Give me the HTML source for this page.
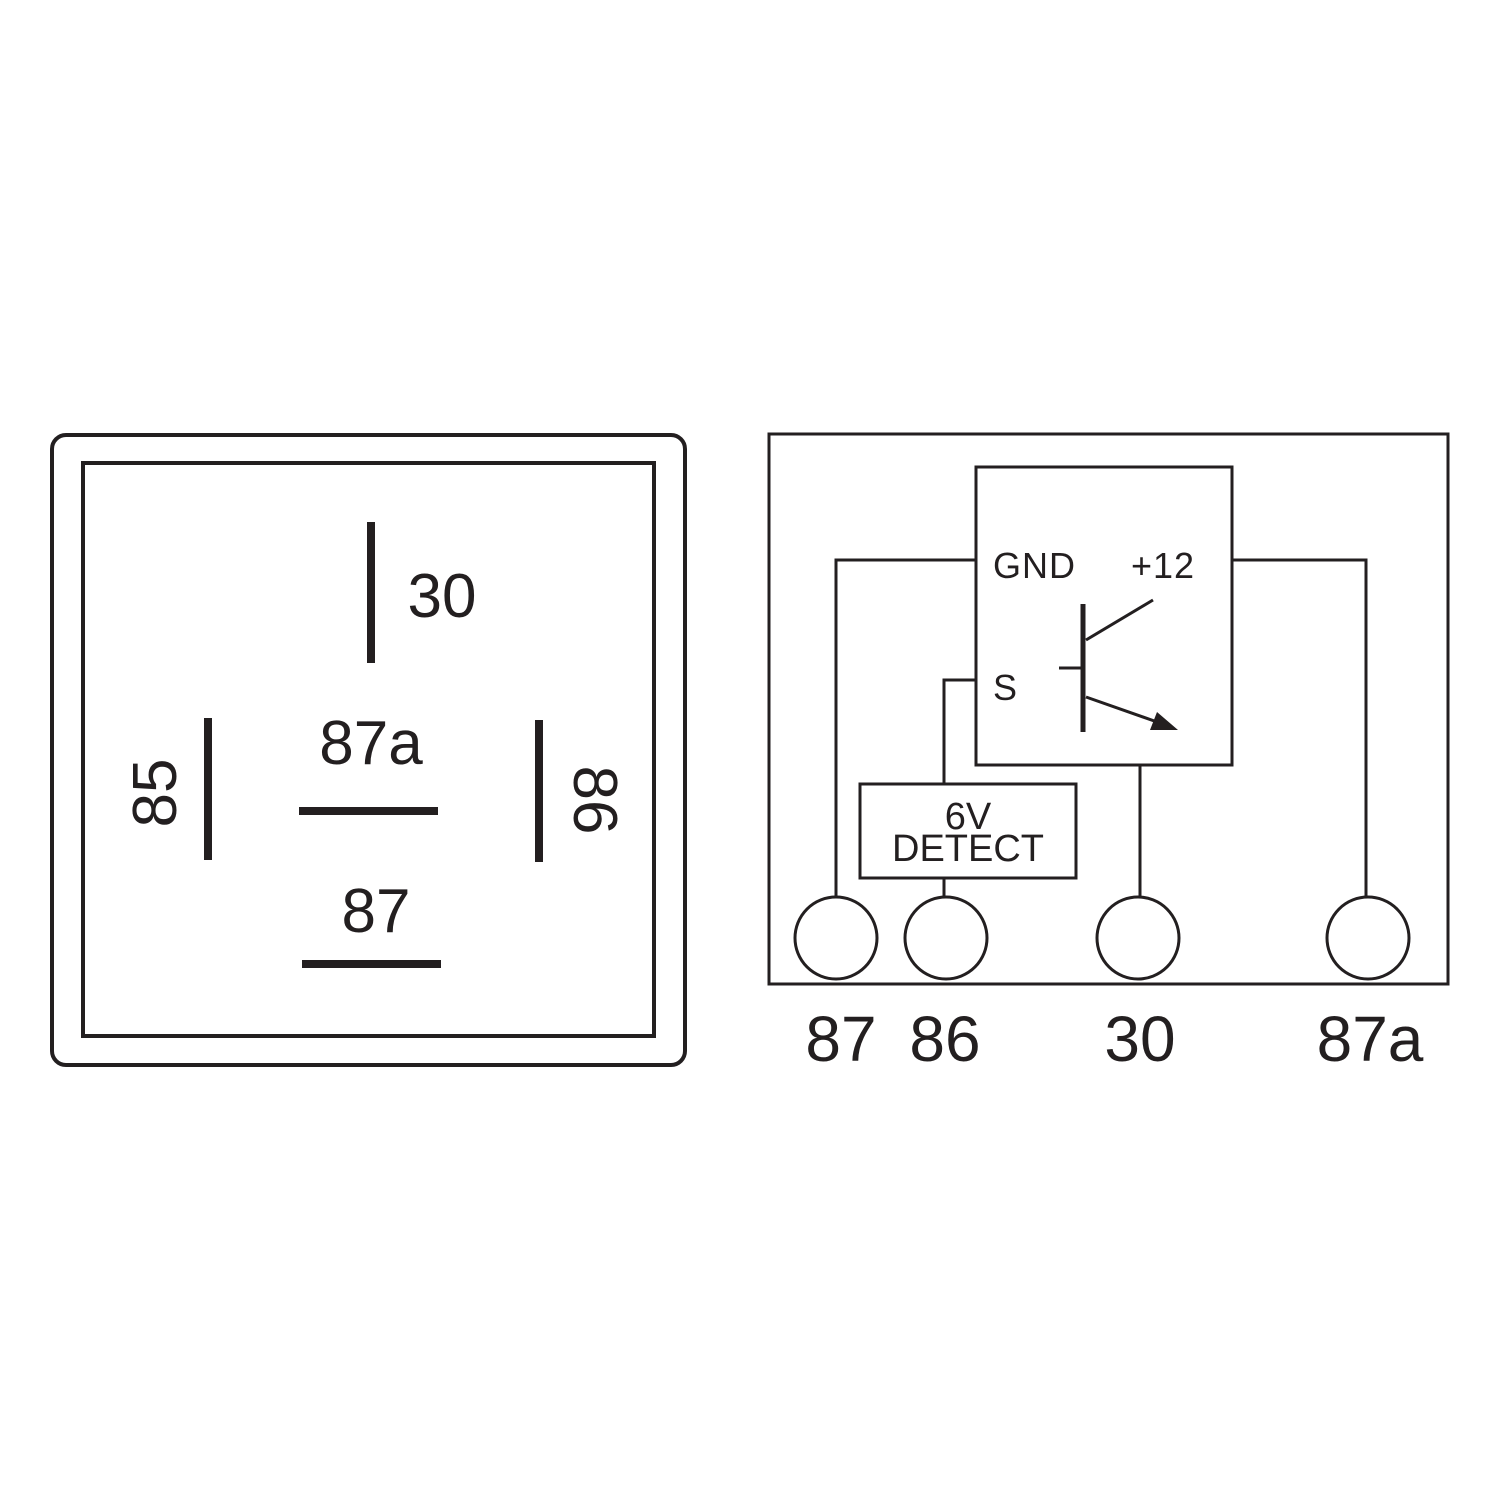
<!DOCTYPE html>
<html><head><meta charset="utf-8"><style>
html,body{margin:0;padding:0;background:#fff;}
svg{display:block;}
text{font-family:"Liberation Sans",sans-serif;fill:#231f20;}
</style></head><body>
<svg width="1500" height="1500" viewBox="0 0 1500 1500" xmlns="http://www.w3.org/2000/svg">
<g fill="none" stroke="#231f20">
<rect x="52" y="435" width="633" height="630" rx="14" stroke-width="4"/>
<rect x="83" y="463" width="571" height="573" stroke-width="4"/>
<line x1="371" y1="522" x2="371" y2="663" stroke-width="8"/>
<line x1="208" y1="718" x2="208" y2="860" stroke-width="8"/>
<line x1="539" y1="720" x2="539" y2="862" stroke-width="8"/>
<line x1="299" y1="811" x2="438" y2="811" stroke-width="8"/>
<line x1="302" y1="964" x2="441" y2="964" stroke-width="8"/>

<rect x="769" y="434" width="679" height="550" stroke-width="3"/>
<rect x="976" y="467" width="256" height="298" stroke-width="3"/>
<polyline points="976,560 836,560 836,897" stroke-width="3"/>
<polyline points="1232,560 1366,560 1366,896" stroke-width="3"/>
<polyline points="976,680 944,680 944,784" stroke-width="3"/>
<line x1="944" y1="878" x2="944" y2="897" stroke-width="3"/>
<line x1="1140" y1="765" x2="1140" y2="896" stroke-width="3"/>
<rect x="860" y="784" width="216" height="94" stroke-width="3"/>
<circle cx="836" cy="938" r="41" stroke-width="3"/>
<circle cx="946" cy="938" r="41" stroke-width="3"/>
<circle cx="1138" cy="938" r="41" stroke-width="3"/>
<circle cx="1368" cy="938" r="41" stroke-width="3"/>
<line x1="1083" y1="604" x2="1083" y2="732" stroke-width="5"/>
<line x1="1059" y1="668" x2="1083" y2="668" stroke-width="3"/>
<line x1="1086" y1="640" x2="1153" y2="600" stroke-width="3"/>
<line x1="1086" y1="697" x2="1160" y2="723" stroke-width="3"/>
</g>
<polygon points="1178,730 1150,730 1157,712" fill="#231f20"/>

<text x="442" y="617" font-size="62" text-anchor="middle">30</text>
<text x="371" y="764" font-size="62" text-anchor="middle">87a</text>
<text x="376" y="932" font-size="62" text-anchor="middle">87</text>
<text transform="translate(176,793) rotate(-90)" font-size="62" text-anchor="middle">85</text>
<text transform="translate(574,800) rotate(90)" font-size="62" text-anchor="middle">86</text>

<text x="993" y="578" font-size="36" letter-spacing="1">GND</text>
<text x="1131" y="578" font-size="36" letter-spacing="1">+12</text>
<text x="993" y="700" font-size="36">S</text>
<text x="968" y="829" font-size="38" text-anchor="middle">6V</text>
<text x="968" y="861" font-size="38" text-anchor="middle">DETECT</text>

<text x="841" y="1061" font-size="64" text-anchor="middle">87</text>
<text x="945" y="1061" font-size="64" text-anchor="middle">86</text>
<text x="1140" y="1061" font-size="64" text-anchor="middle">30</text>
<text x="1370" y="1061" font-size="64" text-anchor="middle">87a</text>
</svg>
</body></html>
